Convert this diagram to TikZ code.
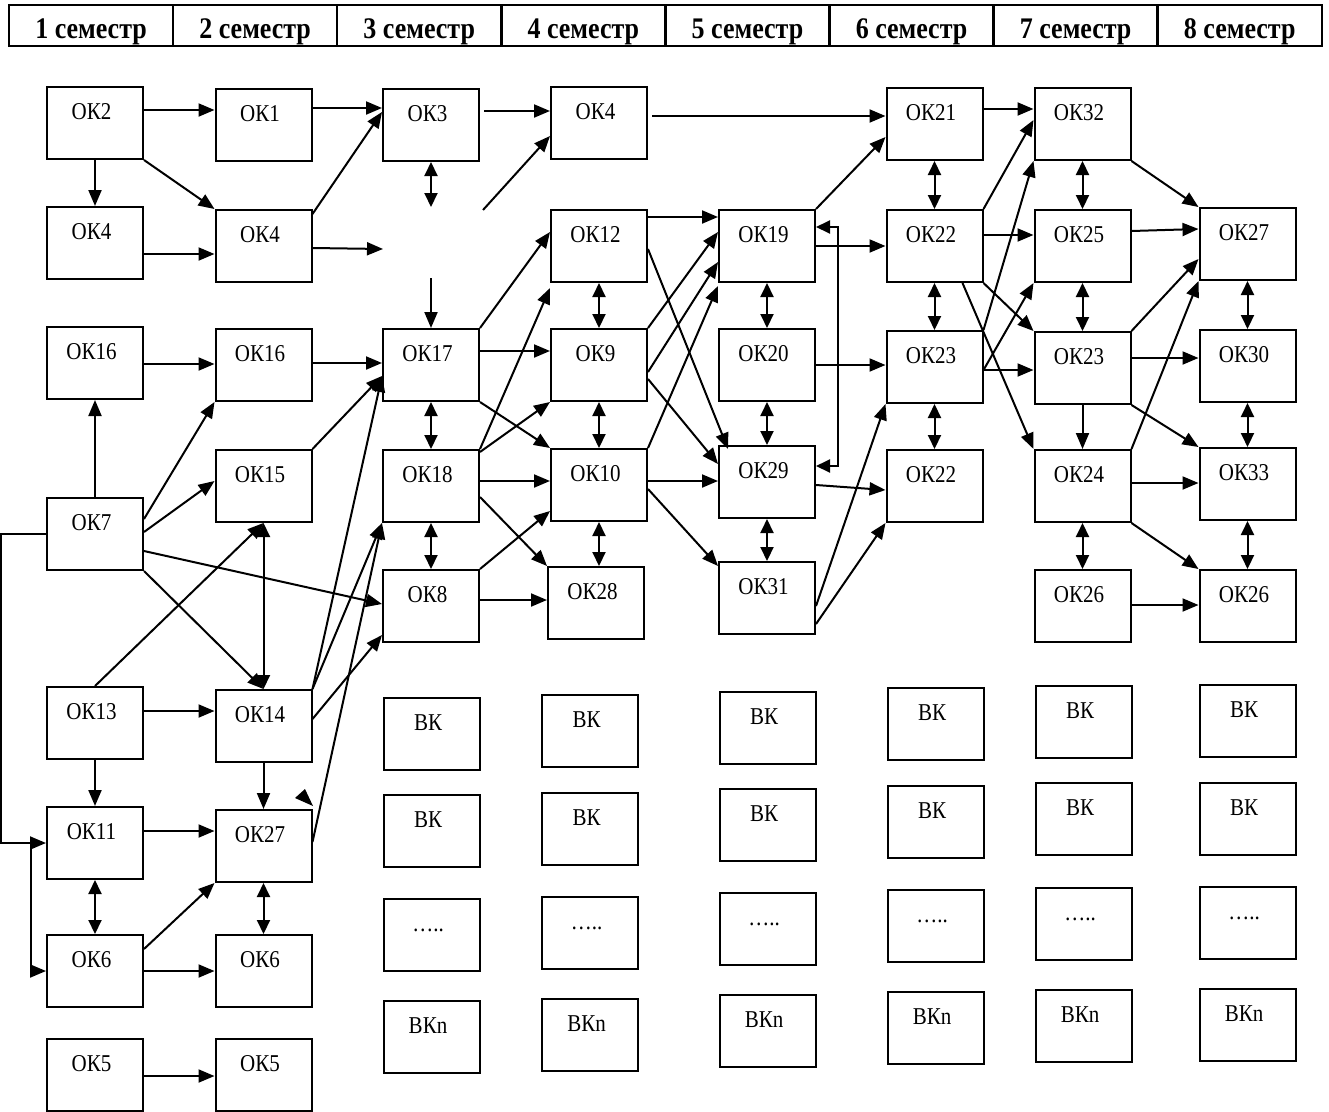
\documentclass[tikz,border=0pt]{standalone}
\usepackage{fontspec}
\setmainfont{Liberation Serif}
\usepackage{graphicx}
\usetikzlibrary{arrows.meta,calc}
\newcommand\stx[1]{\scalebox{1}[1.15]{#1}\hspace*{7pt}}
\newcommand\hstx[1]{\scalebox{1}[1.15]{#1}}
\begin{document}
\begin{tikzpicture}[x=1pt,y=-1pt,
  box/.style={draw, line width=2pt, minimum width=96pt, minimum height=72pt, inner sep=0pt,
    font=\fontsize{21}{24}\selectfont, text height=16pt, text depth=24pt},
  hdr/.style={draw, line width=2.5pt, minimum width=164.1pt, minimum height=41pt, inner sep=0pt,
    font=\bfseries\fontsize{26}{30}\selectfont, text height=27pt, text depth=2pt},
  ar/.style={line width=2pt, -{Triangle[length=16pt,width=13pt]}},
  dar/.style={line width=2pt, {Triangle[length=14pt,width=13pt]}-{Triangle[length=14pt,width=13pt]}},
  ln/.style={line width=2pt}]
\useasboundingbox (0,0) rectangle (1329,1111);
\clip (0,0) rectangle (1329,1111);
% header
\foreach \i in {1,...,8}
  \node[hdr] (h\i) at ({9+164.1*(\i-0.5)},25.5) {\hstx{\i\ семестр}};
% column 1
\node[box] (ok2)  at (95,123)  {\stx{ОК2}};
\node[box] (ok4a) at (95,243)  {\stx{ОК4}};
\node[box] (ok16a) at (95,363) {\stx{ОК16}};
\node[box] (ok7)  at (95,534)  {\stx{ОК7}};
\node[box] (ok13) at (95,723)  {\stx{ОК13}};
\node[box] (ok11) at (95,843)  {\stx{ОК11}};
\node[box] (ok6a) at (95,971)  {\stx{ОК6}};
\node[box] (ok5a) at (95,1075) {\stx{ОК5}};
% column 2
\node[box] (ok1)  at (263.5,125) {\stx{ОК1}};
\node[box] (ok4b) at (263.5,246) {\stx{ОК4}};
\node[box] (ok16b) at (263.5,365) {\stx{ОК16}};
\node[box] (ok15) at (263.5,486) {\stx{ОК15}};
\node[box] (ok14) at (263.5,726) {\stx{ОК14}};
\node[box] (ok27a) at (263.5,846) {\stx{ОК27}};
\node[box] (ok6b) at (263.5,971) {\stx{ОК6}};
\node[box] (ok5b) at (263.5,1075) {\stx{ОК5}};
% column 3
\node[box] (ok3)  at (431,125) {\stx{ОК3}};
\node[box] (ok17) at (431,365) {\stx{ОК17}};
\node[box] (ok18) at (431,486) {\stx{ОК18}};
\node[box] (ok8)  at (431,606) {\stx{ОК8}};
% column 4
\node[box] (ok4c) at (599,123) {\stx{ОК4}};
\node[box] (ok12) at (599,246) {\stx{ОК12}};
\node[box] (ok9)  at (599,365) {\stx{ОК9}};
\node[box] (ok10) at (599,485) {\stx{ОК10}};
\node[box] (ok28) at (596,603) {\stx{ОК28}};
% column 5
\node[box] (ok19) at (767,246) {\stx{ОК19}};
\node[box] (ok20) at (767,365) {\stx{ОК20}};
\node[box] (ok29) at (767,482) {\stx{ОК29}};
\node[box] (ok31) at (767,598) {\stx{ОК31}};
% column 6
\node[box] (ok21)  at (934.5,124) {\stx{ОК21}};
\node[box] (ok22a) at (934.5,246) {\stx{ОК22}};
\node[box] (ok23a) at (934.5,367) {\stx{ОК23}};
\node[box] (ok22b) at (934.5,486) {\stx{ОК22}};
% column 7
\node[box] (ok32)  at (1082.5,124) {\stx{ОК32}};
\node[box] (ok25)  at (1082.5,246) {\stx{ОК25}};
\node[box] (ok23b) at (1082.5,368) {\stx{ОК23}};
\node[box] (ok24)  at (1082.5,486) {\stx{ОК24}};
\node[box] (ok26a) at (1082.5,606) {\stx{ОК26}};
% column 8
\node[box] (ok27b) at (1247.5,244) {\stx{ОК27}};
\node[box] (ok30)  at (1247.5,366) {\stx{ОК30}};
\node[box] (ok33)  at (1247.5,484) {\stx{ОК33}};
\node[box] (ok26b) at (1247.5,606) {\stx{ОК26}};
% elective boxes
\foreach \c/\x/\ya/\yb/\yc/\yd in {A/431.5/734/831/935/1037, B/590/731/829/933/1035,
    C/767.5/728/825/929/1031, D/935.5/724/822/926/1028, E/1083.5/722/819/924/1026,
    F/1247.5/721/819/923/1025} {
  \node[box] (vk\c1) at (\x,\ya) {\stx{ВК}};
  \node[box] (vk\c2) at (\x,\yb) {\stx{ВК}};
  \node[box] (vk\c3) at (\x,\yc) {\stx{…..}};
  \node[box] (vk\c4) at (\x,\yd) {\stx{ВКn}};
}
% free ends
\coordinate (m1) at (383,249);
\coordinate (m2) at (431,207);
\coordinate (m3) at (431,278);
\coordinate (m4) at (483,210);
% connectors, semesters 1-3
\draw[ar] ($(ok2.north east)+(0,24)$) -- ($(ok1.north west)+(0,22)$);
\draw[ar] (ok2.south east) -- (ok4b.north west);
\draw[ar] (ok2.south) -- (ok4a.north);
\draw[ar] ($(ok4a.north east)+(0,48)$) -- ($(ok4b.north west)+(0,45)$);
\draw[ar] ($(ok1.north east)+(0,20)$) -- ($(ok3.north west)+(0,20)$);
\draw[ar] ($(ok4b.north east)+(0,5)$) -- ($(ok3.north west)+(0,24)$);
\draw[ar] ($(ok4b.north east)+(0,39)$) -- (m1);
\draw[dar] (ok3.south) -- (m2);
\draw[ar] (m3) -- (ok17.north);
\draw[ar] (m4) -- ($(ok4c.north west)+(0,50)$);
\draw[ar] ($(ok3.north east)+(4,23)$) -- ($(ok4c.north west)+(0,25)$);
\draw[ar] ($(ok4c.north east)+(4,30)$) -- ($(ok21.north west)+(0,29)$);
\draw[ar] ($(ok16a.north east)+(0,38)$) -- ($(ok16b.north west)+(0,36)$);
\draw[ar] ($(ok16b.north east)+(0,35)$) -- ($(ok17.north west)+(0,35)$);
\draw[ar] (ok7.north) -- (ok16a.south);
\draw[ar] ($(ok7.north east)+(0,22)$) -- (ok16b.south west);
\draw[ar] ($(ok7.north east)+(0,35)$) -- ($(ok15.north west)+(0,32)$);
\draw[ar] ($(ok7.north east)+(0,54)$) -- ($(ok8.north west)+(0,35)$);
\draw[ar] (ok7.south east) -- (ok14.north);
\draw[ar] (ok13.north) -- (ok15.south);
\draw[dar] (ok15.south) -- (ok14.north);
\draw[ar] (ok15.north east) -- ($(ok17.north west)+(0,48)$);
\draw[ar] (ok14.north east) -- ($(ok17.north west)+(0,48)$);
\draw[ar] (ok14.north east) -- (ok18.south west);
\draw[ar] ($(ok14.north east)+(0,30)$) -- ($(ok8.north west)+(0,66)$);
\draw[ar] ($(ok27a.north east)+(0,33)$) -- (ok18.south west);
\draw[ar] ($(ok13.north east)+(0,25)$) -- ($(ok14.north west)+(0,22)$);
\draw[ar] (ok13.south) -- (ok11.north);
\draw[ar] (ok14.south) -- (ok27a.north);
\draw[ar] ($(ok11.north east)+(0,25)$) -- ($(ok27a.north west)+(0,22)$);
\fill (295,798) -- (305,789) -- (313,806) -- cycle;
\draw[dar] (ok11.south) -- (ok6a.north);
\draw[dar] (ok27a.south) -- (ok6b.north);
\draw[ar] ($(ok6a.north east)+(0,15)$) -- (ok27a.south west);
\draw[ar] ($(ok6a.north east)+(0,37)$) -- ($(ok6b.north west)+(0,37)$);
\draw[ar] ($(ok5a.north east)+(0,38)$) -- ($(ok5b.north west)+(0,38)$);
\draw[ar] (ok7.west) -| (1.2,843) -- (ok11.west);
\coordinate (br) at (31,843);
\draw[ar] (br) |- (ok6a.west);
% semesters 3-5
\draw[ar] (ok17.north east) -- ($(ok12.north west)+(0,23)$);
\draw[ar] ($(ok17.north east)+(0,23)$) -- ($(ok9.north west)+(0,23)$);
\draw[dar] (ok17.south) -- (ok18.north);
\draw[dar] (ok18.south) -- (ok8.north);
\draw[ar] (ok17.south east) -- (ok10.north west);
\draw[ar] (ok18.north east) -- ($(ok12.south west)+(0,5)$);
\draw[ar] ($(ok18.north east)+(0,3)$) -- (ok9.south west);
\draw[ar] ($(ok18.north east)+(0,32)$) -- ($(ok10.north west)+(0,33)$);
\draw[ar] ($(ok18.north east)+(0,48)$) -- (ok28.north west);
\draw[ar] (ok8.north east) -- ($(ok10.north west)+(0,63)$);
\draw[ar] ($(ok8.north east)+(0,31)$) -- ($(ok28.north west)+(0,34)$);
\draw[dar] (ok12.south) -- (ok9.north);
\draw[dar] (ok9.south) -- (ok10.north);
\draw[dar] (ok10.south) -- (ok10.south |- ok28.north);
\draw[ar] ($(ok12.north east)+(0,8)$) -- ($(ok19.north west)+(0,8)$);
\draw[ar] ($(ok12.north east)+(0,40)$) -- ($(ok29.north west)+(10,4)$);
\draw[ar] (ok9.north east) -- ($(ok19.north west)+(0,23)$);
\draw[ar] ($(ok9.north east)+(0,44)$) -- ($(ok19.north west)+(0,53)$);
\draw[ar] (ok10.north east) -- ($(ok19.south west)+(0,3)$);
\draw[ar] ($(ok9.north east)+(0,51)$) -- ($(ok29.north west)+(0,19)$);
\draw[ar] ($(ok10.north east)+(0,33)$) -- ($(ok29.north west)+(0,36)$);
\draw[ar] ($(ok10.north east)+(0,41)$) -- ($(ok31.north west)+(0,5)$);
\draw[dar] (ok19.south) -- (ok20.north);
\draw[dar] (ok20.south) -- (ok29.north);
\draw[dar] (ok29.south) -- (ok31.north);
% semesters 5-6
\draw[ar] ($(ok19.north east)+(0,37)$) -- ($(ok22a.north west)+(0,37)$);
\draw[ar] ($(ok20.north east)+(0,37)$) -- ($(ok23a.north west)+(0,35)$);
\draw[ar] ($(ok29.north east)+(0,40)$) -- ($(ok22b.north west)+(0,41)$);
\draw[dar] ($(ok19.north east)+(0,18)$) -- ($(ok19.north east)+(22,18)$) -- ($(ok29.north east)+(22,21)$) -- ($(ok29.north east)+(0,21)$);
\draw[ar] (ok19.north east) -- ($(ok21.north west)+(0,50)$);
\draw[ar] ($(ok31.north east)+(0,45)$) -- (ok23a.south west);
\draw[ar] ($(ok31.north east)+(0,63)$) -- (ok22b.south west);
% semesters 6-8
\draw[ar] ($(ok21.north east)+(0,22)$) -- ($(ok32.north west)+(0,22)$);
\draw[dar] (ok21.south) -- (ok22a.north);
\draw[dar] (ok22a.south) -- (ok23a.north);
\draw[dar] (ok23a.south) -- (ok22b.north);
\draw[ar] (ok22a.north east) -- ($(ok32.north west)+(0,33)$);
\draw[ar] ($(ok22a.north east)+(0,26)$) -- ($(ok25.north west)+(0,26)$);
\draw[ar] (ok22a.south east) -- (ok23b.north west);
\draw[ar] ($(ok22a.south west)+(77,0)$) -- (ok24.north west);
\draw[ar] (ok23a.north east) -- (ok32.south west);
\draw[ar] ($(ok23a.north east)+(0,40)$) -- (ok25.south west);
\draw[ar] ($(ok23a.north east)+(0,40)$) -- ($(ok23b.north west)+(0,39)$);
\draw[dar] (ok32.south) -- (ok25.north);
\draw[dar] (ok25.south) -- (ok23b.north);
\draw[ar] (ok32.south east) -- (ok27b.north west);
\draw[ar] ($(ok25.north east)+(0,22)$) -- ($(ok27b.north west)+(0,22)$);
\draw[ar] (ok23b.north east) -- ($(ok27b.north west)+(0,52)$);
\draw[ar] (ok24.north east) -- (ok27b.south west);
\draw[ar] ($(ok23b.north east)+(0,27)$) -- ($(ok30.north west)+(0,29)$);
\draw[ar] (ok23b.south) -- (ok24.north);
\draw[ar] (ok23b.south east) -- (ok33.north west);
\draw[dar] (ok27b.south) -- (ok30.north);
\draw[dar] (ok30.south) -- (ok33.north);
\draw[dar] (ok33.south) -- (ok26b.north);
\draw[ar] ($(ok24.north east)+(0,34)$) -- ($(ok33.north west)+(0,36)$);
\draw[ar] (ok24.south east) -- (ok26b.north west);
\draw[dar] (ok24.south) -- (ok26a.north);
\draw[ar] ($(ok26a.north east)+(0,36)$) -- ($(ok26b.north west)+(0,36)$);
\end{tikzpicture}
\end{document}
